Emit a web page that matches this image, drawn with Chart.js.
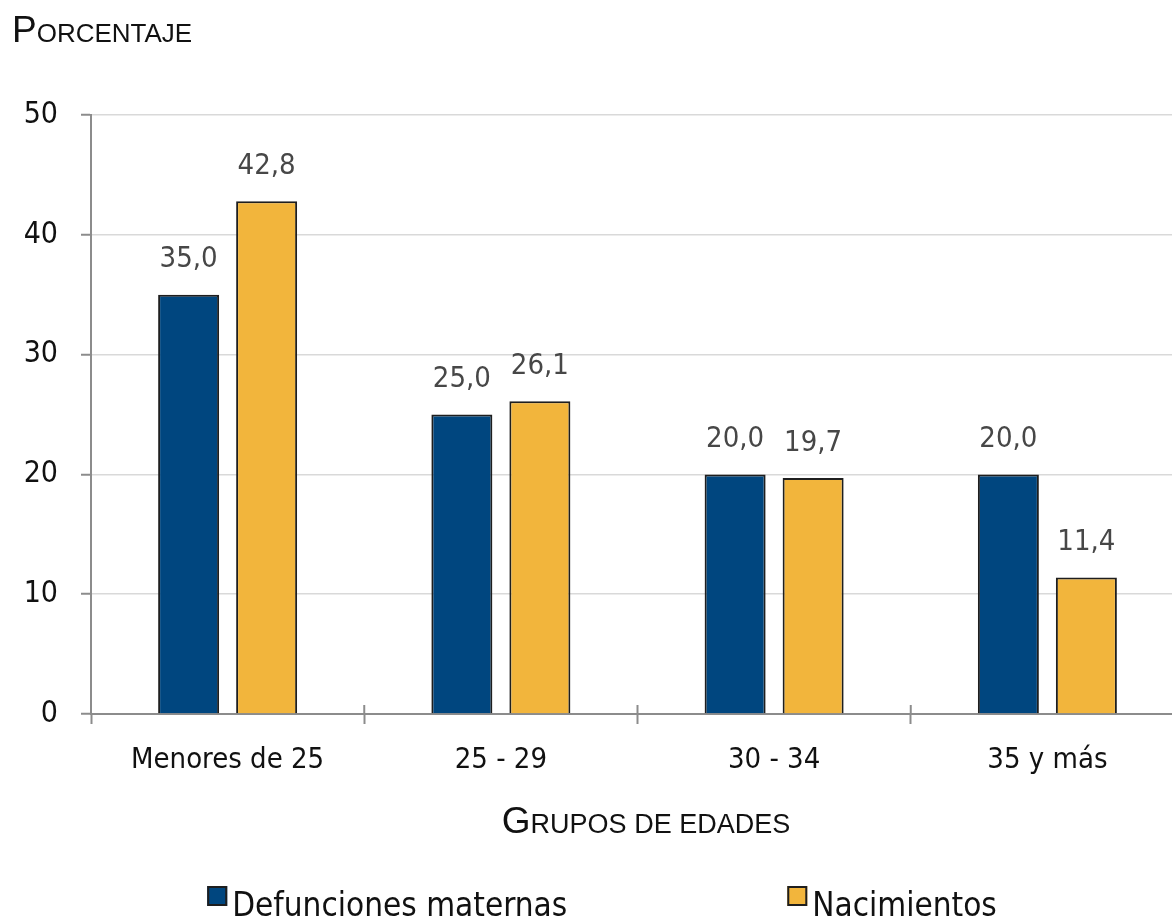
<!DOCTYPE html>
<html>
<head>
<meta charset="utf-8">
<script src="https://cdn.jsdelivr.net/npm/chart.js@4.4.1/dist/chart.umd.min.js"></script>
<style>
  html, body { margin: 0; padding: 0; background: #fff; overflow: hidden; }
  canvas { display: block; }
</style>
</head>
<body>
<canvas id="edades" width="1200" height="921"></canvas>
<script>
const grupos = ["Menores de 25", "25 - 29", "30 - 34", "35 y más"];
const defunciones = [35.0, 25.0, 20.0, 20.0];
const nacimientos = [42.8, 26.1, 19.7, 11.4];
const yTicks = [0, 10, 20, 30, 40, 50];
const serieNames = ["Defunciones maternas", "Nacimientos"];
const tituloY = "Porcentaje";
const tituloX = "Grupos de edades";

const FONT = '"DejaVu Sans Condensed", "Liberation Sans Narrow", sans-serif';
const TITLE_FONT = '"Liberation Sans", sans-serif';

// first letter big, the rest as small capitals
function drawSmallCaps(ctx, text, x, y, big, small, align) {
  const up = text.toUpperCase();
  const first = up[0], rest = up.slice(1);
  ctx.font = big + "px " + TITLE_FONT;
  const w1 = ctx.measureText(first).width;
  ctx.font = small + "px " + TITLE_FONT;
  const w2 = ctx.measureText(rest).width;
  let cx = align === "center" ? x - (w1 + w2) / 2 : x;
  ctx.textAlign = "left";
  ctx.textBaseline = "alphabetic";
  ctx.font = big + "px " + TITLE_FONT;
  ctx.fillText(first, cx, y);
  ctx.font = small + "px " + TITLE_FONT;
  ctx.fillText(rest, cx + w1, y);
}

const valueLabels = {
  id: "valueLabels",
  afterDatasetsDraw(chart) {
    const ctx = chart.ctx;
    ctx.save();
    ctx.font = "29px " + FONT;
    ctx.fillStyle = "#474747";
    ctx.textAlign = "center";
    ctx.textBaseline = "middle";
    chart.data.datasets.forEach((ds, i) => {
      chart.getDatasetMeta(i).data.forEach((bar, j) => {
        ctx.fillText(ds.data[j].toFixed(1).replace(".", ","), bar.x, bar.y - 35);
      });
    });
    ctx.restore();
  }
};

const titlesAndLegend = {
  id: "titlesAndLegend",
  afterDraw(chart) {
    const ctx = chart.ctx;
    const xs = chart.scales.x;
    ctx.save();

    // short marks across the x axis at category boundaries
    ctx.strokeStyle = "#8c8c8c";
    ctx.lineWidth = 2;
    for (let k = 1; k < grupos.length; k++) {
      const bx = (xs.getPixelForTick(k - 1) + xs.getPixelForTick(k)) / 2;
      ctx.beginPath();
      ctx.moveTo(bx, xs.top - 9);
      ctx.lineTo(bx, xs.top);
      ctx.stroke();
    }

    ctx.fillStyle = "#111";
    drawSmallCaps(ctx, tituloY, 12, 42, 37, 26, "left");
    drawSmallCaps(ctx, tituloX, 646, 833, 37, 27, "center");

    // legend
    const box = 20, gapText = 5, gapItems = 220;
    ctx.font = "33px " + FONT;
    const items = chart.data.datasets.map(ds => ({
      label: ds.label, color: ds.backgroundColor, w: box + gapText + ctx.measureText(ds.label).width
    }));
    const total = items.reduce((s, it) => s + it.w, 0) + gapItems * (items.length - 1);
    let x = 602 - total / 2;
    items.forEach(it => {
      ctx.fillStyle = it.color;
      ctx.fillRect(x, 886, box, box);
      ctx.strokeStyle = "#1e1e1e";
      ctx.lineWidth = 2;
      ctx.strokeRect(x + 1, 887, box - 2, box - 2);
      ctx.fillStyle = "#111";
      ctx.textAlign = "left";
      ctx.textBaseline = "alphabetic";
      ctx.fillText(it.label, x + box + gapText, 916);
      x += it.w + gapItems;
    });
    ctx.restore();
  }
};

new Chart(document.getElementById("edades"), {
  type: "bar",
  data: {
    labels: grupos,
    datasets: [
      {
        label: serieNames[0],
        data: defunciones,
        backgroundColor: "#00467f",
        borderColor: "#1e1e1e",
        borderWidth: 2,
      },
      {
        label: serieNames[1],
        data: nacimientos,
        backgroundColor: "#f2b53c",
        borderColor: "#1e1e1e",
        borderWidth: 2,
      },
    ],
  },
  options: {
    responsive: false,
    animation: false,
    datasets: { bar: { categoryPercentage: 0.571, barPercentage: 0.782 } },
    layout: { padding: { top: 115, right: 16, bottom: 0, left: 0 } },
    plugins: {
      legend: { display: false },
      title: { display: false },
      tooltip: { enabled: false },
    },
    scales: {
      x: {
        grid: { display: true, drawOnChartArea: false, offset: true, tickLength: 10, tickColor: "#8c8c8c", tickWidth: 2 },
        border: { color: "#8c8c8c", width: 2 },
        ticks: { color: "#111", font: { family: FONT, size: 29 }, padding: 19 },
        afterFit(scale) { scale.height = 207; },
      },
      y: {
        min: 0,
        max: 50,
        afterBuildTicks(scale) { scale.ticks = yTicks.map(v => ({ value: v })); },
        grid: { color: "#d9d9d9", lineWidth: 1.5, tickLength: 10, tickColor: "#8c8c8c", tickWidth: 2 },
        border: { color: "#8c8c8c", width: 2 },
        ticks: { color: "#111", font: { family: FONT, size: 30 }, padding: 23 },
        afterFit(scale) { scale.width = 91; },
      },
    },
  },
  plugins: [valueLabels, titlesAndLegend],
});
</script>
</body>
</html>
